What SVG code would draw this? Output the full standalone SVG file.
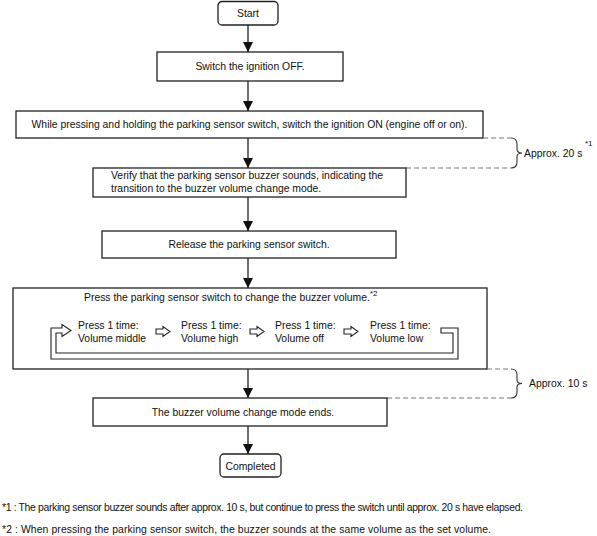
<svg xmlns="http://www.w3.org/2000/svg" width="597" height="536" viewBox="0 0 597 536">
<style>
text{font-family:"Liberation Sans",Arial,sans-serif;font-size:10.4px;fill:#111}
.box{fill:#fff;stroke:#222;stroke-width:1.3}
.conn{stroke:#222;stroke-width:1.3;fill:none}
.dash{stroke:#777;stroke-width:1.1;fill:none;stroke-dasharray:5 3}
.brace{stroke:#333;stroke-width:1.1;fill:none}
.hollow{fill:#fff;stroke:#222;stroke-width:1.1}
.sup{font-size:8px}
</style>
<defs>
<marker id="ah" viewBox="0 0 10 10" refX="10" refY="5" markerWidth="10" markerHeight="10" markerUnits="userSpaceOnUse" orient="auto">
<path d="M0,0 L10,5 L0,10 Z" fill="#111"/>
</marker>
</defs>
<rect width="597" height="536" fill="#fff"/>
<g id="connectors">
<line class="conn" x1="248" y1="25" x2="248" y2="52" marker-end="url(#ah)"/>
<line class="conn" x1="248" y1="81" x2="248" y2="111" marker-end="url(#ah)"/>
<line class="conn" x1="248" y1="138" x2="248" y2="168" marker-end="url(#ah)"/>
<line class="conn" x1="248" y1="197" x2="248" y2="231" marker-end="url(#ah)"/>
<line class="conn" x1="248" y1="258" x2="248" y2="288" marker-end="url(#ah)"/>
<line class="conn" x1="248" y1="369" x2="248" y2="398" marker-end="url(#ah)"/>
<line class="conn" x1="248" y1="426" x2="248" y2="454" marker-end="url(#ah)"/>
</g>
<g id="start">
<rect class="box" x="218" y="1.5" width="60" height="23.5" rx="4"/>
<text x="248" y="17" text-anchor="middle">Start</text>
</g>
<g id="step1">
<rect class="box" x="157" y="52" width="186" height="29"/>
<text x="250" y="70" text-anchor="middle">Switch the ignition OFF.</text>
</g>
<g id="step2">
<rect class="box" x="16" y="111" width="467" height="27"/>
<text x="249.5" y="128" text-anchor="middle">While pressing and holding the parking sensor switch, switch the ignition ON (engine off or on).</text>
</g>
<g id="timing1">
<path class="dash" d="M483,138 H511"/>
<path class="dash" d="M406,168 H511"/>
<path class="brace" d="M511,138 Q517,138 517,144 V149 Q517,153 522,153 Q517,153 517,157 V162 Q517,168 511,168"/>
<text x="524" y="157">Approx. 20 s</text>
<text class="sup" x="585" y="146">*1</text>
</g>
<g id="step3">
<rect class="box" x="93" y="168" width="313" height="29"/>
<text x="111" y="179">Verify that the parking sensor buzzer sounds, indicating the</text>
<text x="111" y="192">transition to the buzzer volume change mode.</text>
</g>
<g id="step4">
<rect class="box" x="102" y="231" width="294" height="27"/>
<text x="249" y="248" text-anchor="middle">Release the parking sensor switch.</text>
</g>
<g id="step5">
<rect class="box" x="13" y="288" width="474" height="81"/>
<text x="84" y="301">Press the parking sensor switch to change the buzzer volume.</text>
<text class="sup" x="370" y="296">*2</text>
<path class="hollow" d="M441,328 H458 V359 H51 V328 H62 V324.5 L71,330.5 L62,336.5 V333 H56 V353 H453 V333 H441 Z"/>
<text x="78" y="329">Press 1 time:</text>
<text x="78" y="342">Volume middle</text>
<path class="hollow" d="M156,329 H163 V326.5 L170,331.5 L163,336.5 V334 H156 Z"/>
<text x="181" y="329">Press 1 time:</text>
<text x="181" y="342">Volume high</text>
<path class="hollow" d="M250,329 H257 V326.5 L264,331.5 L257,336.5 V334 H250 Z"/>
<text x="275" y="329">Press 1 time:</text>
<text x="275" y="342">Volume off</text>
<path class="hollow" d="M344,329 H351 V326.5 L358,331.5 L351,336.5 V334 H344 Z"/>
<text x="370" y="329">Press 1 time:</text>
<text x="370" y="342">Volume low</text>
</g>
<g id="timing2">
<path class="dash" d="M487,369 H511"/>
<path class="dash" d="M387,398 H511"/>
<path class="brace" d="M511,369 Q517,369 517,375 V380 Q517,383.5 522,383.5 Q517,383.5 517,387 V392 Q517,398 511,398"/>
<text x="529" y="387">Approx. 10 s</text>
</g>
<g id="step6">
<rect class="box" x="93" y="398" width="294" height="28"/>
<text x="243" y="415.5" text-anchor="middle">The buzzer volume change mode ends.</text>
</g>
<g id="end">
<rect class="box" x="220" y="454" width="61" height="23" rx="4"/>
<text x="250.5" y="469.5" text-anchor="middle">Completed</text>
</g>
<g id="notes">
<text x="2" y="511" font-size="10" textLength="521" lengthAdjust="spacing">*1 : The parking sensor buzzer sounds after approx. 10 s, but continue to press the switch until approx. 20 s have elapsed.</text>
<text x="2" y="533" textLength="489" lengthAdjust="spacing">*2 : When pressing the parking sensor switch, the buzzer sounds at the same volume as the set volume.</text>
</g>
</svg>
